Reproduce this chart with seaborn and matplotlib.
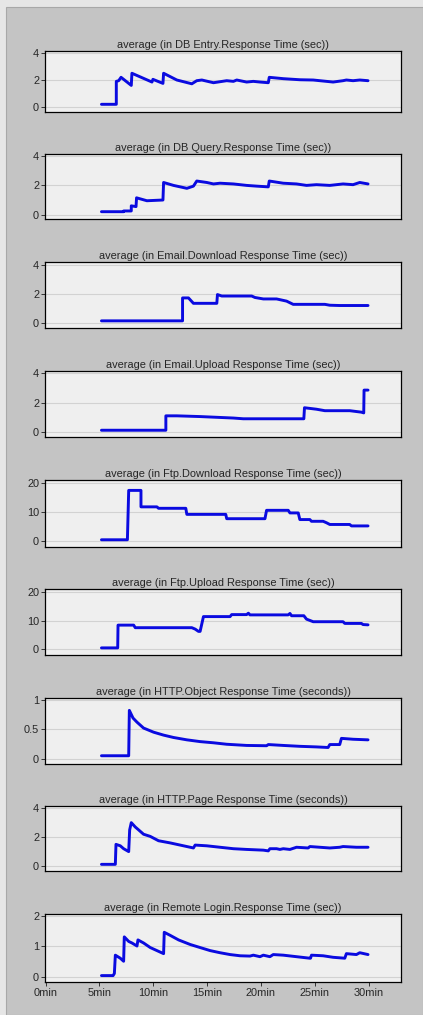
import matplotlib
matplotlib.use("Agg")
import matplotlib.pyplot as plt
from matplotlib.patches import Rectangle
import seaborn as sns

sns.set_theme(style="white")
plt.rcParams['font.family'] = ['Liberation Sans', 'DejaVu Sans']

# ---------------- data (minutes, value) ----------------
titles = [
    "average (in DB Entry.Response Time (sec))",
    "average (in DB Query.Response Time (sec))",
    "average (in Email.Download Response Time (sec))",
    "average (in Email.Upload Response Time (sec))",
    "average (in Ftp.Download Response Time (sec))",
    "average (in Ftp.Upload Response Time (sec))",
    "average (in HTTP.Object Response Time (seconds))",
    "average (in HTTP.Page Response Time (seconds))",
    "average (in Remote Login.Response Time (sec))",
]

db_entry_t = [5.19, 6.57, 6.57, 6.79, 7.01, 7.96, 8.02, 9.88, 9.97, 10.90, 10.96, 12.19, 13.58, 14.04,
              14.51, 15.59, 16.82, 17.44, 17.75, 18.67, 19.29, 19.91, 20.68, 20.77, 22.07, 23.61, 24.85,
              26.08, 26.70, 27.62, 27.93, 28.55, 29.17, 29.94]
db_entry_v = [0.2, 0.2, 1.9, 1.95, 2.2, 1.6, 2.5, 1.85, 2.05, 1.75, 2.5, 2.0, 1.72, 1.95,
              2.0, 1.8, 1.95, 1.9, 2.0, 1.85, 1.9, 1.85, 1.8, 2.2, 2.1, 2.02, 2.0,
              1.9, 1.85, 1.95, 2.0, 1.95, 2.0, 1.95]

db_query_t = [5.19, 7.25, 7.25, 7.96, 7.96, 8.40, 8.45, 9.41, 10.90, 10.96, 11.88, 13.12, 13.73, 14.04,
              14.97, 15.59, 16.20, 17.44, 18.67, 19.60, 20.68, 20.77, 22.07, 23.30, 24.23, 25.15, 26.39,
              27.62, 28.55, 29.17, 29.94]
db_query_v = [0.2, 0.2, 0.25, 0.25, 0.6, 0.55, 1.15, 0.95, 1.0, 2.2, 2.0, 1.8, 1.95, 2.3,
              2.2, 2.1, 2.15, 2.1, 2.0, 1.95, 1.9, 2.3, 2.15, 2.1, 2.0, 2.05, 2.0,
              2.1, 2.05, 2.2, 2.1]

email_dl_t = [5.19, 12.72, 12.72, 13.27, 13.73, 15.90, 15.96, 16.36, 19.14, 19.44, 20.22, 21.45, 22.38,
              22.99, 25.93, 26.39, 27.31, 29.94]
email_dl_v = [0.15, 0.15, 1.72, 1.72, 1.35, 1.35, 1.95, 1.85, 1.85, 1.75, 1.65, 1.65, 1.5,
              1.28, 1.28, 1.22, 1.2, 1.2]

email_ul_t = [5.19, 11.17, 11.17, 12.19, 14.35, 15.90, 17.44, 18.36, 23.98, 24.04, 25.15, 25.93, 28.24,
              29.32, 29.54, 29.57, 29.94]
email_ul_v = [0.12, 0.12, 1.1, 1.1, 1.05, 1.0, 0.95, 0.9, 0.9, 1.65, 1.55, 1.45, 1.45,
              1.35, 1.3, 2.85, 2.85]

ftp_dl_t = [5.19, 7.60, 7.72, 8.86, 8.86, 10.34, 10.49, 13.02, 13.12, 16.73, 16.82, 20.37, 20.52, 22.53,
            22.69, 23.46, 23.61, 24.54, 24.69, 25.77, 26.08, 26.39, 28.24, 28.40, 29.94]
ftp_dl_v = [0.4, 0.4, 17.5, 17.5, 11.8, 11.8, 11.3, 11.3, 9.2, 9.2, 7.7, 7.7, 10.6, 10.6,
            9.7, 9.7, 7.4, 7.4, 6.8, 6.8, 6.3, 5.7, 5.7, 5.2, 5.2]

ftp_ul_t = [5.19, 6.70, 6.73, 8.18, 8.33, 13.58, 13.89, 14.20, 14.35, 14.66, 17.13, 17.28, 18.67, 18.83,
            18.98, 22.53, 22.69, 22.84, 23.98, 24.23, 24.85, 27.62, 27.78, 29.32, 29.48, 29.94]
ftp_ul_v = [0.4, 0.4, 8.4, 8.4, 7.5, 7.5, 7.0, 6.2, 6.2, 11.4, 11.4, 12.1, 12.1, 12.6,
            12.0, 12.0, 12.5, 11.7, 11.7, 10.5, 9.6, 9.6, 9.0, 9.0, 8.6, 8.5]

http_obj_t = [5.19, 7.72, 7.78, 8.12, 8.49, 9.10, 10.03, 10.96, 11.88, 13.12, 14.35, 15.59, 16.82,
              18.67, 20.52, 20.68, 22.07, 23.61, 25.15, 26.23, 26.39, 27.31, 27.47, 28.55, 29.94]
http_obj_v = [0.05, 0.05, 0.82, 0.69, 0.62, 0.52, 0.45, 0.40, 0.36, 0.32, 0.29, 0.27, 0.245,
              0.225, 0.22, 0.24, 0.225, 0.21, 0.2, 0.19, 0.24, 0.24, 0.345, 0.33, 0.32]

http_page_t = [5.19, 6.48, 6.54, 6.94, 7.25, 7.72, 7.81, 7.96, 8.33, 8.64, 9.10, 9.72, 10.49, 11.57,
               12.50, 13.43, 13.73, 13.89, 14.97, 16.20, 17.44, 18.67, 20.22, 20.68, 20.83, 21.45,
               21.76, 22.07, 22.69, 23.30, 24.38, 24.54, 25.46, 26.39, 27.31, 27.62, 28.86, 29.94]
http_page_v = [0.12, 0.12, 1.5, 1.4, 1.2, 1.0, 2.5, 3.0, 2.7, 2.5, 2.2, 2.05, 1.75, 1.6,
               1.45, 1.3, 1.25, 1.45, 1.4, 1.3, 1.2, 1.15, 1.1, 1.05, 1.2, 1.2,
               1.15, 1.2, 1.15, 1.3, 1.25, 1.35, 1.3, 1.25, 1.3, 1.35, 1.3, 1.3]

remote_t = [5.19, 6.27, 6.39, 6.48, 6.94, 7.25, 7.31, 7.72, 8.02, 8.49, 8.58, 9.10, 9.72, 10.34,
            10.96, 11.02, 11.57, 12.35, 13.43, 14.35, 15.28, 16.20, 17.13, 18.06, 18.98, 19.29,
            19.91, 20.22, 20.83, 21.14, 22.07, 23.30, 24.54, 24.60, 24.69, 25.77, 26.70, 27.78,
            27.93, 28.86, 29.17, 29.94]
remote_v = [0.03, 0.03, 0.1, 0.7, 0.6, 0.5, 1.3, 1.15, 1.1, 1.0, 1.2, 1.1, 0.95, 0.85,
            0.75, 1.45, 1.35, 1.2, 1.05, 0.95, 0.85, 0.78, 0.72, 0.68, 0.67, 0.7,
            0.65, 0.7, 0.65, 0.72, 0.7, 0.65, 0.6, 0.6, 0.7, 0.68, 0.63, 0.6,
            0.75, 0.72, 0.78, 0.72]

series_t = [db_entry_t, db_query_t, email_dl_t, email_ul_t, ftp_dl_t, ftp_ul_t, http_obj_t, http_page_t, remote_t]
series_v = [db_entry_v, db_query_v, email_dl_v, email_ul_v, ftp_dl_v, ftp_ul_v, http_obj_v, http_page_v, remote_v]

y_ticks = [[0, 2, 4], [0, 2, 4], [0, 2, 4], [0, 2, 4], [0, 10, 20], [0, 10, 20], [0, 0.5, 1], [0, 2, 4], [0, 1, 2]]
y_ticklabels = [["0", "2", "4"]] * 4 + [["0", "10", "20"]] * 2 + [["0", "0.5", "1"], ["0", "2", "4"], ["0", "1", "2"]]
y_limits = [(-0.37, 4.15), (-0.3, 4.15), (-0.34, 4.18), (-0.34, 4.15), (-2.1, 21.1), (-2.1, 21.1),
            (-0.09, 1.03), (-0.34, 4.15), (-0.18, 2.05)]
x_ticks = [0, 5, 10, 15, 20, 25, 30]
x_ticklabels = ["0min", "5min", "10min", "15min", "20min", "25min", "30min"]

# ---------------- layout ----------------
W, H = 423, 1015
fig = plt.figure(figsize=(W / 100, H / 100), dpi=100)
fig.patch.set_facecolor("#e6e6e6")
fig.patches.append(Rectangle((6 / W, 0), 1 - 6 / W, 1 - 6.5 / H, transform=fig.transFigure,
                             facecolor="#c4c4c4", edgecolor="#a8a8a8", linewidth=0.8, zorder=-5))

panel_px = [(51, 112), (154, 219), (262, 328), (371, 437), (480, 547), (589, 655), (698, 764), (806, 871), (914, 982)]
left_px, right_px = 45, 401

FS = 7.9
text_color = "#262626"
line_color = "#0a0ae0"
for i, (top, bot) in enumerate(panel_px):
    ax = fig.add_axes([left_px / W, 1 - bot / H, (right_px - left_px) / W, (bot - top) / H])
    ax.set_facecolor("#efefef")
    for y in y_ticks[i]:
        ax.axhline(y, color="#d2d2d2", linewidth=0.8, zorder=0)
    sns.lineplot(x=series_t[i], y=series_v[i], ax=ax, sort=False, estimator=None,
                 color=line_color, linewidth=2.1, zorder=3)
    ax.set_xlim(-0.05, 33)
    ax.set_ylim(*y_limits[i])
    ax.set_yticks(y_ticks[i])
    ax.set_yticklabels(y_ticklabels[i], fontsize=FS, color=text_color)
    ax.set_title(titles[i], fontsize=FS, pad=2.0, color=text_color)
    for s in ax.spines.values():
        s.set_visible(True)
        s.set_color("black")
        s.set_linewidth(0.9)
    ax.tick_params(axis="y", direction="out", length=3, width=0.7, pad=1.2, left=True, color="#333333")
    if i == len(panel_px) - 1:
        ax.set_xticks(x_ticks)
        ax.set_xticklabels(x_ticklabels, fontsize=FS, color=text_color)
        ax.tick_params(axis="x", direction="out", length=3, width=0.7, pad=1.5, bottom=True, color="#333333")
    else:
        ax.set_xticks([])
    ax.set_xlabel("")
    ax.set_ylabel("")

fig.savefig("out.png", dpi=100, facecolor=fig.get_facecolor())
